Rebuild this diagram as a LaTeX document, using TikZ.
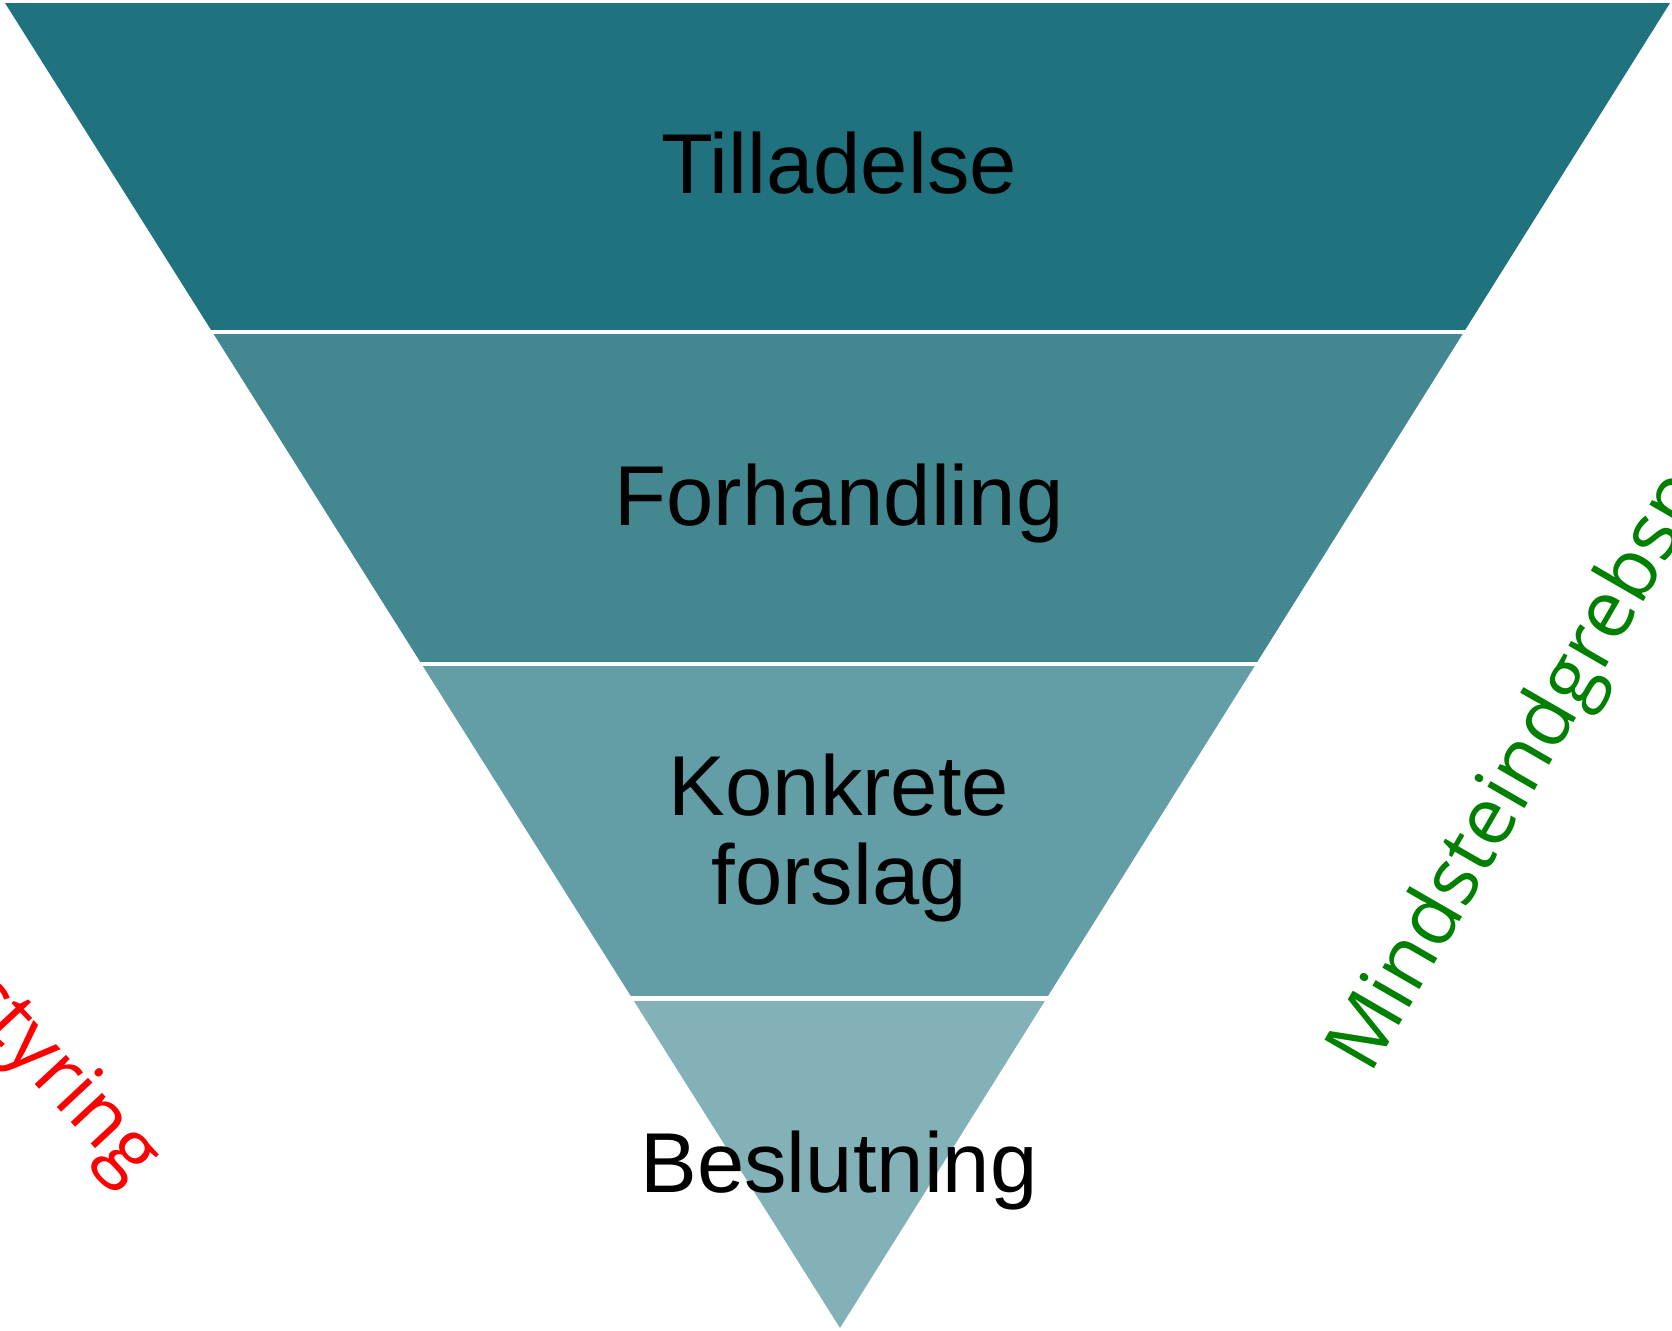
\documentclass[tikz,border=0pt]{standalone}
\usepackage{fontspec}
\setmainfont{Liberation Sans}
\newfontfamily\sidefont{Open Sans}
\definecolor{bandA}{RGB}{32,115,126}
\definecolor{bandB}{RGB}{67,136,144}
\definecolor{bandC}{RGB}{99,158,166}
\definecolor{bandD}{RGB}{131,177,184}
\definecolor{sideRed}{RGB}{255,0,0}
\definecolor{sideGreen}{RGB}{0,128,0}
\begin{document}
\begin{tikzpicture}[x=0.5pt,y=0.5pt,yscale=-1,
  lbl/.style={inner sep=0pt, align=center, text=black, font=\fontsize{42.5}{44.5}\selectfont},
  side/.style={inner sep=0pt, font=\sidefont\fontsize{40}{44}\selectfont}]
\useasboundingbox (0,0) rectangle (1672,1331);
\clip (0,0) rectangle (1672,1331);

%Shape: Funnel bands
\begin{scope}
\clip (5,3) -- (1670,3) -- (840,1328) -- cycle;
\fill [bandA] (0,3) rectangle (1672,330);
\fill [bandB] (0,334) rectangle (1672,662);
\fill [bandC] (0,666) rectangle (1672,996);
\fill [bandD] (0,1001) rectangle (1672,1331);
\end{scope}

% Text Node
\node [lbl, anchor=base] (tilladelse) at (839,194) {Tilladelse};
% Text Node
\node [lbl, anchor=base] (forhandling) at (839,526) {Forhandling};
% Text Node
\node [lbl, anchor=center] (forslag) at (839,838) {Konkrete\\forslag};
% Text Node
\node [lbl, anchor=base] (beslutning) at (839,1192) {Beslutning};

% Text Node
\node [side, text=sideRed, anchor=base east, rotate=-47] (styring) at (130,1186) {styring};
% Text Node
\node [side, text=sideGreen, anchor=base west, rotate=60] (mindst) at (1370,1076) {Mindsteindgrebsp};

\end{tikzpicture}
\end{document}
